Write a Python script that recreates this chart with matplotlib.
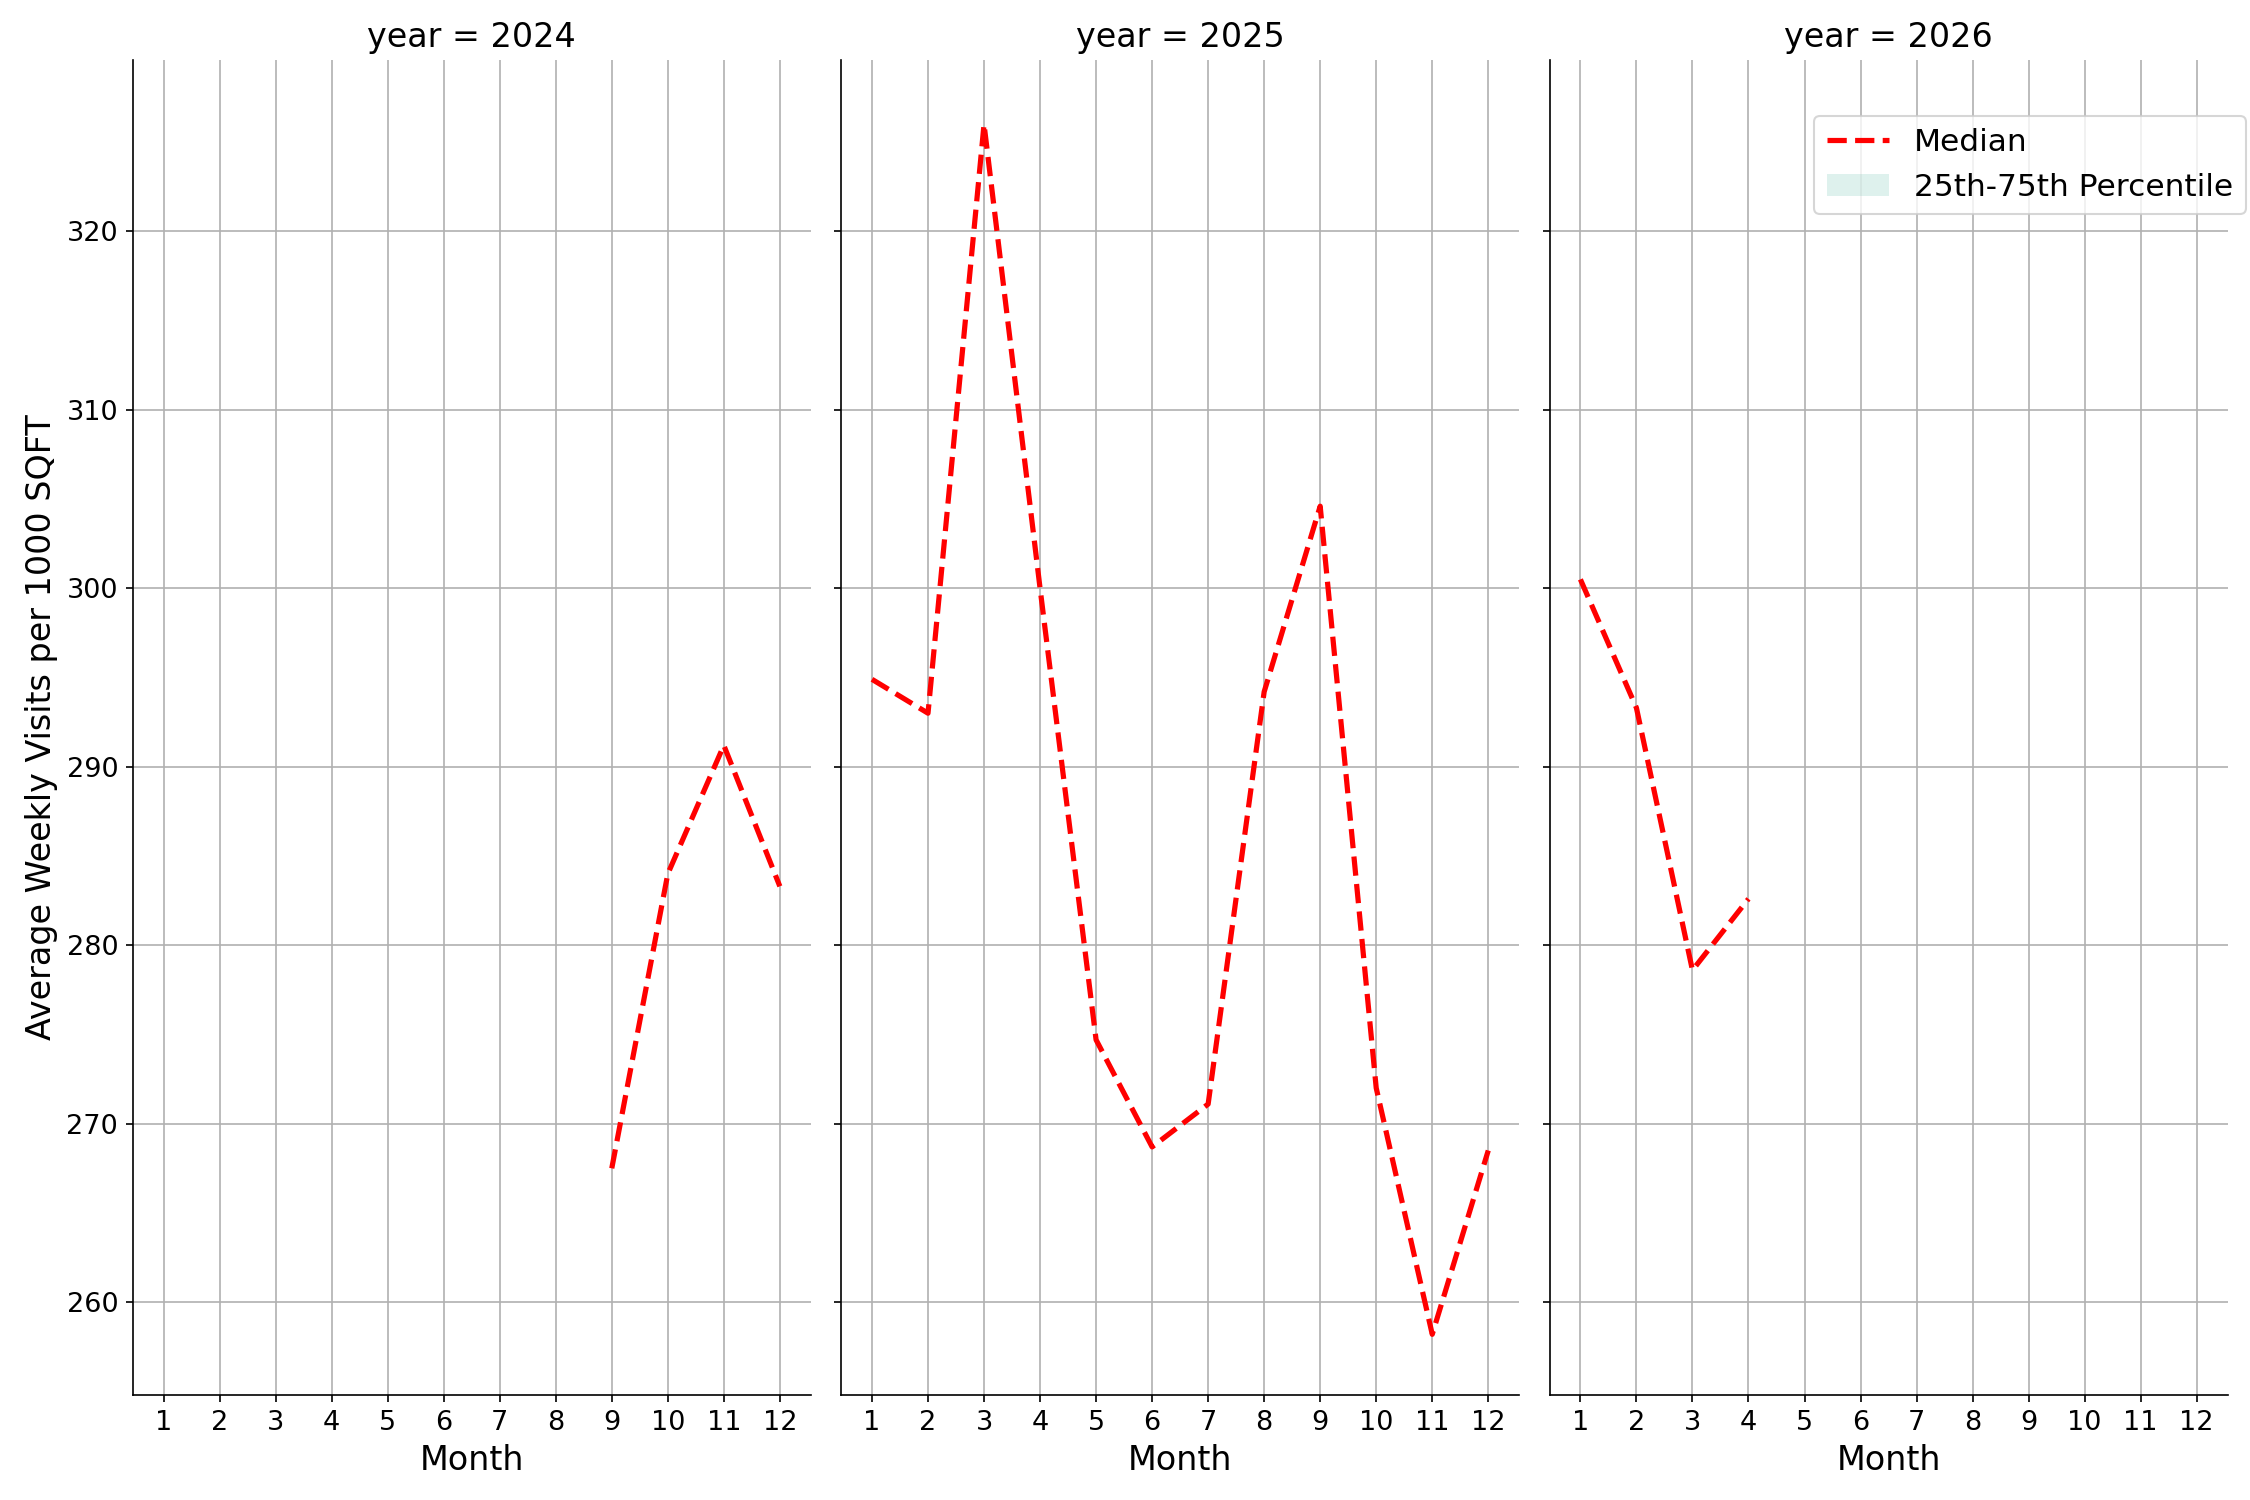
import matplotlib
matplotlib.use("Agg")
import matplotlib.pyplot as plt
from matplotlib.patches import Patch
from matplotlib.lines import Line2D

years = [2024, 2025, 2026]
months_2024 = [9, 10, 11, 12]
median_2024 = [267.5, 284.0, 291.2, 283.3]
months_2025 = list(range(1, 13))
median_2025 = [294.9, 293.0, 326.0, 300.0, 274.7, 268.7, 271.1, 294.2, 304.6, 272.0, 258.2, 268.5]
months_2026 = [1, 2, 3, 4]
median_2026 = [300.5, 293.3, 278.6, 282.6]
data = [(months_2024, median_2024), (months_2025, median_2025), (months_2026, median_2026)]

fig, axes = plt.subplots(1, 3, figsize=(15, 10), dpi=150, sharey=True)
fig.subplots_adjust(left=0.059, right=0.99, bottom=0.07, top=0.96, wspace=0.045)
for ax, yr, (m, v) in zip(axes, years, data):
    ax.plot(m, v, color="red", linestyle="--", linewidth=2.5)
    ax.set_title(f"year = {yr}", fontsize=16)
    ax.set_xticks(range(1, 13))
    ax.set_xlim(0.45, 12.55)
    ax.set_ylim(254.8, 329.6)
    ax.set_yticks(range(260, 321, 10))
    ax.grid(True, color="#b0b0b0", linewidth=0.8)
    ax.tick_params(labelsize=13)
    ax.set_xlabel("Month", fontsize=16)
    for s in ["top", "right"]:
        ax.spines[s].set_visible(False)
axes[0].set_ylabel("Average Weekly Visits per 1000 SQFT", fontsize=16)
handles = [Line2D([], [], color="red", linestyle="--", linewidth=2.5),
           Patch(facecolor="#7fc9b8", alpha=0.25)]
axes[2].legend(handles, ["Median", "25th-75th Percentile"], loc="upper right",
               bbox_to_anchor=(1.05, 0.97), fontsize=15)
fig.savefig("out.png")
